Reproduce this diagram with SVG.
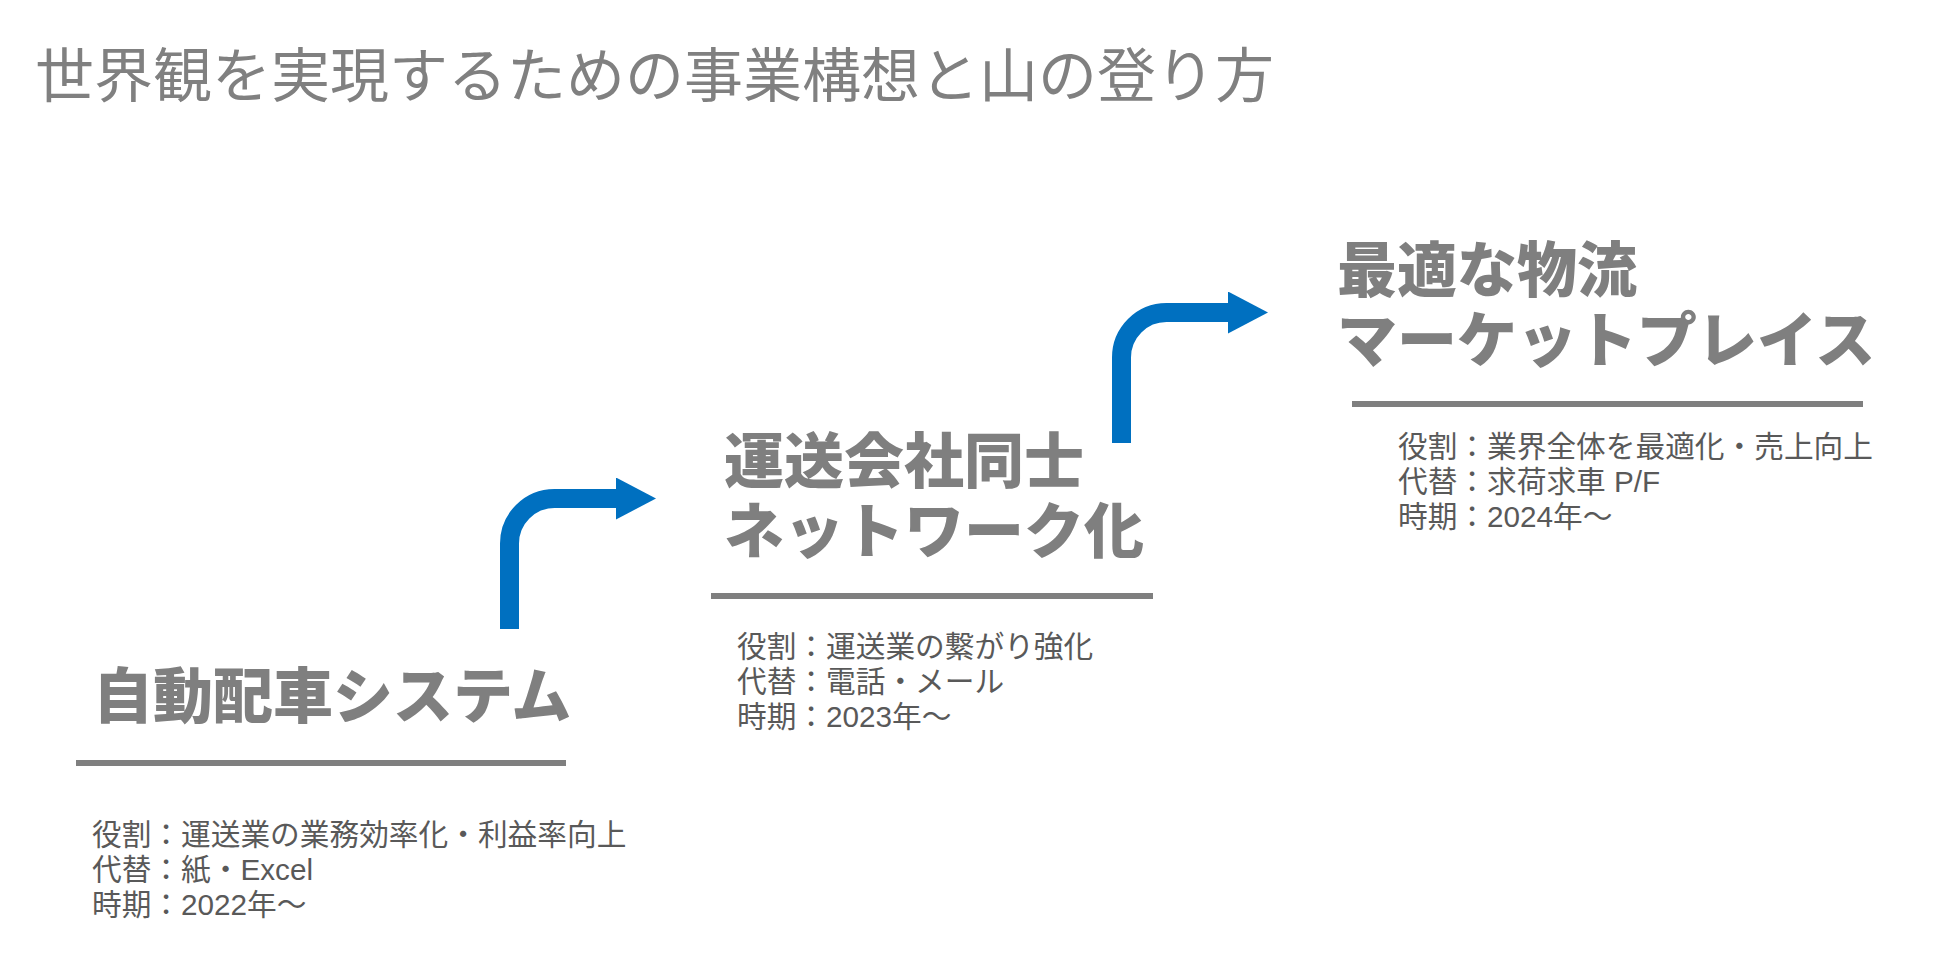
<svg xmlns="http://www.w3.org/2000/svg" width="1936" height="958" viewBox="0 0 1936 958">
  <style>
    .title { font-family: "Noto Sans CJK JP", "Liberation Sans", sans-serif; font-size: 59px; font-weight: 400; fill: #808080; }
    .head { font-family: "Noto Sans CJK JP", sans-serif; font-size: 60px; font-weight: 900; fill: #7f7f7f; }
    .desc { font-family: "Liberation Sans", "Noto Sans CJK JP", sans-serif; font-size: 29.7px; fill: #595959; }
    .rule { stroke: #7f7f7f; stroke-width: 6; }
    .flow { fill: none; stroke: #0070c0; stroke-width: 19; }
  </style>
  <defs>
    <marker id="head" markerUnits="userSpaceOnUse" markerWidth="40" markerHeight="42" refX="0" refY="21" orient="auto" viewBox="0 0 40 42">
      <path d="M0,0 L40,21 L0,42 Z" fill="#0070c0"/>
    </marker>
  </defs>
  <rect width="1936" height="958" fill="#ffffff"/>
  <text class="title" x="35" y="97">世界観を実現するための事業構想と山の登り方</text>

  <g id="node-dispatch">
    <text class="head" x="93" y="718">自動配車システム</text>
    <line class="rule" x1="76" y1="763" x2="566" y2="763"/>
    <text class="desc" x="92" y="845">役割：運送業の業務効率化・利益率向上<tspan x="92" dy="35">代替：紙・Excel</tspan><tspan x="92" dy="35">時期：2022年〜</tspan></text>
  </g>

  <g id="node-network">
    <text class="head" x="724" y="483">運送会社同士<tspan x="724" dy="70">ネットワーク化</tspan></text>
    <line class="rule" x1="711" y1="596" x2="1153" y2="596"/>
    <text class="desc" x="737" y="657">役割：運送業の繋がり強化<tspan x="737" dy="35">代替：電話・メール</tspan><tspan x="737" dy="35">時期：2023年〜</tspan></text>
  </g>

  <g id="node-marketplace">
    <text class="head" x="1337" y="292">最適な物流<tspan x="1337" dy="70">マーケットプレイス</tspan></text>
    <line class="rule" x1="1352" y1="404" x2="1863" y2="404"/>
    <text class="desc" x="1398" y="457">役割：業界全体を最適化・売上向上<tspan x="1398" dy="35">代替：求荷求車 P/F</tspan><tspan x="1398" dy="35">時期：2024年〜</tspan></text>
  </g>

  <g id="connectors">
    <path class="flow" d="M509.5,629 V543.5 A45,45 0 0 1 554.5,498.5 H616" marker-end="url(#head)"/>
    <path class="flow" d="M1121.5,443 V357.5 A45,45 0 0 1 1166.5,312.5 H1228" marker-end="url(#head)"/>
  </g>
</svg>
